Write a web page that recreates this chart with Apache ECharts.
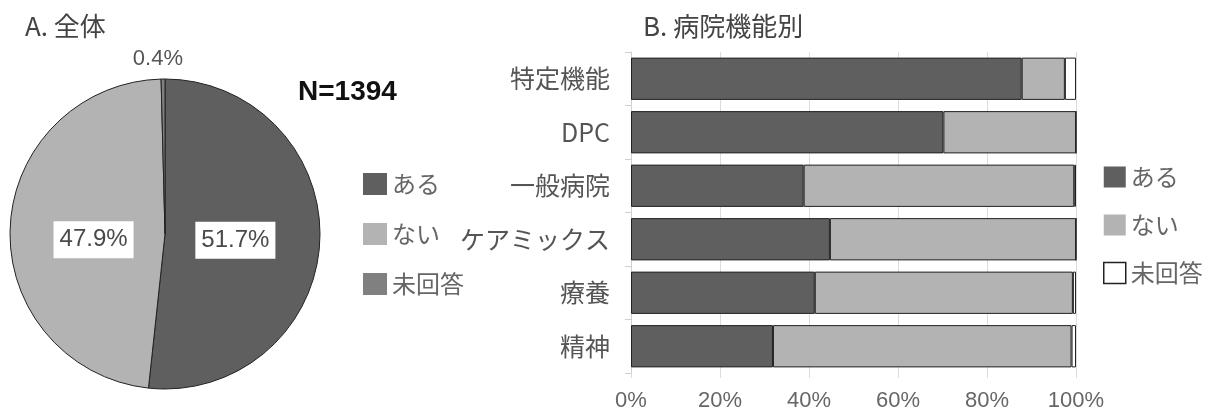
<!DOCTYPE html>
<html>
<head>
<meta charset="utf-8">
<script src="https://cdn.jsdelivr.net/npm/echarts@6/dist/echarts.min.js"></script>
<style>
html,body{margin:0;padding:0;background:#fff;}
#chart{width:1213px;height:414px;}
</style>
</head>
<body>
<div id="chart"></div>
<script>
// ---- data ----
const answerNames = ['ある', 'ない', '未回答'];
const overallPct = [51.7, 47.9, 0.4];           // A. 全体 (N=1394)
const hospitalTypes = ['特定機能', 'DPC', '一般病院', 'ケアミックス', '療養', '精神'];
const yesPct = [87.8, 70.2, 38.8, 44.7, 41.3, 31.9];
const noPct = [9.7, 29.8, 60.8, 55.3, 58.0, 67.1];
const naPct = [2.5, 0.0, 0.4, 0.0, 0.7, 1.0];
const xTicks = [0, 20, 40, 60, 80, 100];

const CJK = '"Noto Sans CJK JP", "Noto Sans", sans-serif';
const LAT = '"Liberation Sans", Arial, sans-serif';
const pieColors = ['#5f5f5f', '#b3b3b3', '#808080'];
const barColors = ['#5f5f5f', '#b3b3b3', '#ffffff'];

const chart = echarts.init(document.getElementById('chart'), null, {renderer: 'canvas'});

const pieLabelBox = {
  show: true, position: 'inside', backgroundColor: '#ffffff', formatter: '{c}%',
  padding: [7, 6, 6, 6], fontSize: 24, color: '#4a4a4a', fontFamily: LAT
};
const pieData = overallPct.map((v, i) => {
  const item = {name: answerNames[i], value: v, itemStyle: {color: pieColors[i]}};
  if (i === 0) item.label = Object.assign({}, pieLabelBox, {offset: [-10, 2]});
  else if (i === 1) item.label = Object.assign({}, pieLabelBox, {offset: [9, 9]});
  else item.label = {show: true, position: 'outside', formatter: '{c}%', distance: 6, fontSize: 22,
    color: '#555', fontFamily: LAT, offset: [25, -16]};
  item.labelLine = {show: false, length: 4, length2: 0};
  return item;
});

const barSeries = [yesPct, noPct, naPct].map((arr, i) => ({
  name: answerNames[i], type: 'bar', stack: 'total',
  xAxisIndex: 0, yAxisIndex: 0,
  barCategoryGap: '21%',
  itemStyle: {color: barColors[i], borderColor: '#222', borderWidth: 1},
  data: arr
}));

chart.setOption({
  animation: false,
  title: [
    {text: 'A. 全体', left: 20, top: 8, textStyle: {fontSize: 26, fontWeight: 'normal', color: '#444', fontFamily: CJK}},
    {text: 'B. 病院機能別', left: 638, top: 8, textStyle: {fontSize: 26, fontWeight: 'normal', color: '#444', fontFamily: CJK}},
    {text: 'N=1394', left: 293, top: 73, textStyle: {fontSize: 28, fontWeight: 'bold', color: '#111', fontFamily: LAT}}
  ],
  legend: [
    {
      orient: 'vertical', left: 358, top: 167, itemWidth: 24, itemHeight: 22, itemGap: 26,
      icon: 'rect',
      textStyle: {fontSize: 24, color: '#666', fontFamily: CJK, lineHeight: 22},
      data: answerNames.map((n, i) => ({name: n, icon: 'rect', itemStyle: {color: pieColors[i], borderWidth: 0}})),
      selectedMode: false
    },
    {
      orient: 'vertical', left: 1098, top: 160, itemWidth: 22, itemHeight: 21, itemGap: 24,
      icon: 'rect',
      textStyle: {fontSize: 24, color: '#666', fontFamily: CJK, lineHeight: 22},
      data: answerNames.map((n, i) => ({name: n, icon: 'rect',
        itemStyle: {color: barColors[i], borderColor: i === 2 ? '#222' : barColors[i], borderWidth: i === 2 ? 1.5 : 0}})),
      selectedMode: false
    }
  ],
  grid: {left: 631, right: 137, top: 52, bottom: 41, containLabel: false},
  xAxis: {
    type: 'value', min: 0, max: 100, interval: 20,
    axisLine: {show: false},
    axisTick: {show: true, length: 5, lineStyle: {color: '#ddd'}},
    splitLine: {show: true, lineStyle: {color: '#dcdcdc', width: 1}},
    axisLabel: {margin: 17, fontSize: 22, color: '#666', fontFamily: LAT,
      formatter: v => xTicks.includes(v) ? v + '%' : ''}
  },
  yAxis: {
    type: 'category', inverse: true, data: hospitalTypes,
    axisLine: {show: true, lineStyle: {color: '#d0d0d0'}},
    axisTick: {show: true, length: 6, lineStyle: {color: '#d0d0d0'}},
    axisLabel: {margin: 21, fontSize: 25, color: '#555', fontFamily: CJK}
  },
  series: [
    {
      name: 'A', type: 'pie', center: [165, 234], radius: 155, startAngle: 90, clockwise: true,
      avoidLabelOverlap: false,
      itemStyle: {borderColor: '#222', borderWidth: 1},
      label: {show: true},
      emphasis: {disabled: true},
      data: pieData
    }
  ].concat(barSeries)
});
</script>
</body>
</html>
